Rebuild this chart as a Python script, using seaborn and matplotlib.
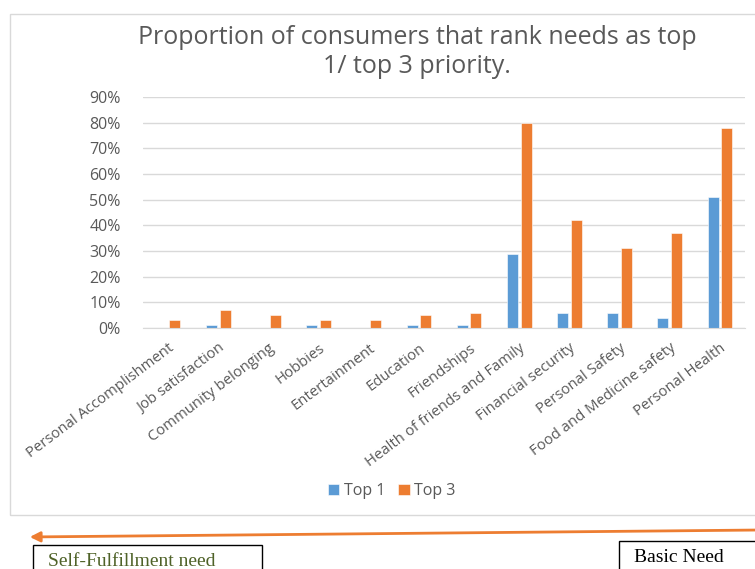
import pandas as pd
import numpy as np
import matplotlib
matplotlib.use('Agg')
import matplotlib.pyplot as plt
from matplotlib.patches import Rectangle
from matplotlib.ticker import PercentFormatter
import seaborn as sns

# data
needs = ['Personal Accomplishment', 'Job satisfaction', 'Community belonging',
         'Hobbies', 'Entertainment', 'Education', 'Friendships',
         'Health of friends and Family', 'Financial security', 'Personal Safety',
         'Food and Medicine safety', 'Personal Health']
top1 = [0.00, 0.01, 0.00, 0.01, 0.00, 0.01, 0.01, 0.29, 0.06, 0.06, 0.04, 0.51]
top3 = [0.03, 0.07, 0.05, 0.03, 0.03, 0.05, 0.06, 0.80, 0.42, 0.31, 0.37, 0.78]
series = ['Top 1', 'Top 3']
yticks = [0, 0.1, 0.2, 0.3, 0.4, 0.5, 0.6, 0.7, 0.8, 0.9]

df = pd.DataFrame({'need': needs * 2,
                   'value': top1 + top3,
                   'series': [series[0]] * len(needs) + [series[1]] * len(needs)})

sns.set_style('white')
plt.rcParams['font.family'] = ['Open Sans', 'DejaVu Sans']
grey = '#595959'
blue = '#5b9bd5'
orange = '#ed7d31'

W, H = 755, 569
fig = plt.figure(figsize=(W / 100, H / 100), dpi=100)

def fx(px):
    return px / W

def fy(py):
    return 1 - py / H

# chart area frame
fig.patches.append(Rectangle((fx(10), fy(515)), fx(760) - fx(10), fy(14) - fy(515),
                             transform=fig.transFigure, fill=False,
                             edgecolor='#d9d9d9', lw=1))

ax = fig.add_axes([fx(143), fy(328), fx(745) - fx(143), fy(97) - fy(328)])
sns.barplot(data=df, x='need', y='value', hue='series', hue_order=series,
            palette=[blue, orange], width=0.55, gap=0.2, ax=ax,
            saturation=1, edgecolor='white', linewidth=0.4)

ax.set_ylim(0, 0.9)
ax.set_yticks(yticks)
ax.yaxis.set_major_formatter(PercentFormatter(1.0, decimals=0))
ax.grid(axis='y', color='#d9d9d9', lw=1)
ax.set_axisbelow(True)
for s in ['top', 'right', 'left']:
    ax.spines[s].set_visible(False)
ax.spines['bottom'].set_color('#d9d9d9')
ax.set_xlabel('')
ax.set_ylabel('')
ax.tick_params(axis='both', length=0, colors=grey)
ax.tick_params(axis='y', labelsize=11.5, pad=16)
ax.set_xticks(range(len(needs)))
ax.set_xticklabels(needs, rotation=37, ha='right', rotation_mode='anchor',
                   fontsize=10.7, color=grey)
ax.tick_params(axis='x', pad=9)

handles, labels = ax.get_legend_handles_labels()
ax.get_legend().remove()
fig.legend(handles, labels, loc='center', bbox_to_anchor=(fx(392), fy(491)),
           ncol=2, frameon=False, fontsize=11.5, handlelength=0.7,
           handleheight=0.7, handletextpad=0.3, columnspacing=0.8,
           labelcolor=grey)

fig.text(fx(417), fy(52), 'Proportion of consumers that rank needs as top\n1/ top 3 priority.',
         ha='center', va='center', fontsize=18, color=grey, linespacing=1.2)

# arrow from basic to self-fulfillment
fig.patches.append(matplotlib.patches.FancyArrowPatch(
    (fx(760), fy(530)), (fx(27), fy(537)), transform=fig.transFigure,
    arrowstyle='-|>,head_length=6,head_width=3', color=orange, lw=2))

fig.patches.append(Rectangle((fx(33), fy(575)), fx(262) - fx(33), fy(545) - fy(575),
                             transform=fig.transFigure, fill=False,
                             edgecolor='black', lw=1))
fig.text(fx(48), fy(561), 'Self-Fulfillment need', ha='left', va='center',
         family='Liberation Serif', fontsize=14, color='#4f6228')

fig.patches.append(Rectangle((fx(619), fy(575)), fx(770) - fx(619), fy(541) - fy(575),
                             transform=fig.transFigure, fill=False,
                             edgecolor='black', lw=1))
fig.text(fx(634), fy(558), 'Basic Need', ha='left', va='center',
         family='Liberation Serif', fontsize=14, color='black')

plt.savefig('out.png', dpi=100)
